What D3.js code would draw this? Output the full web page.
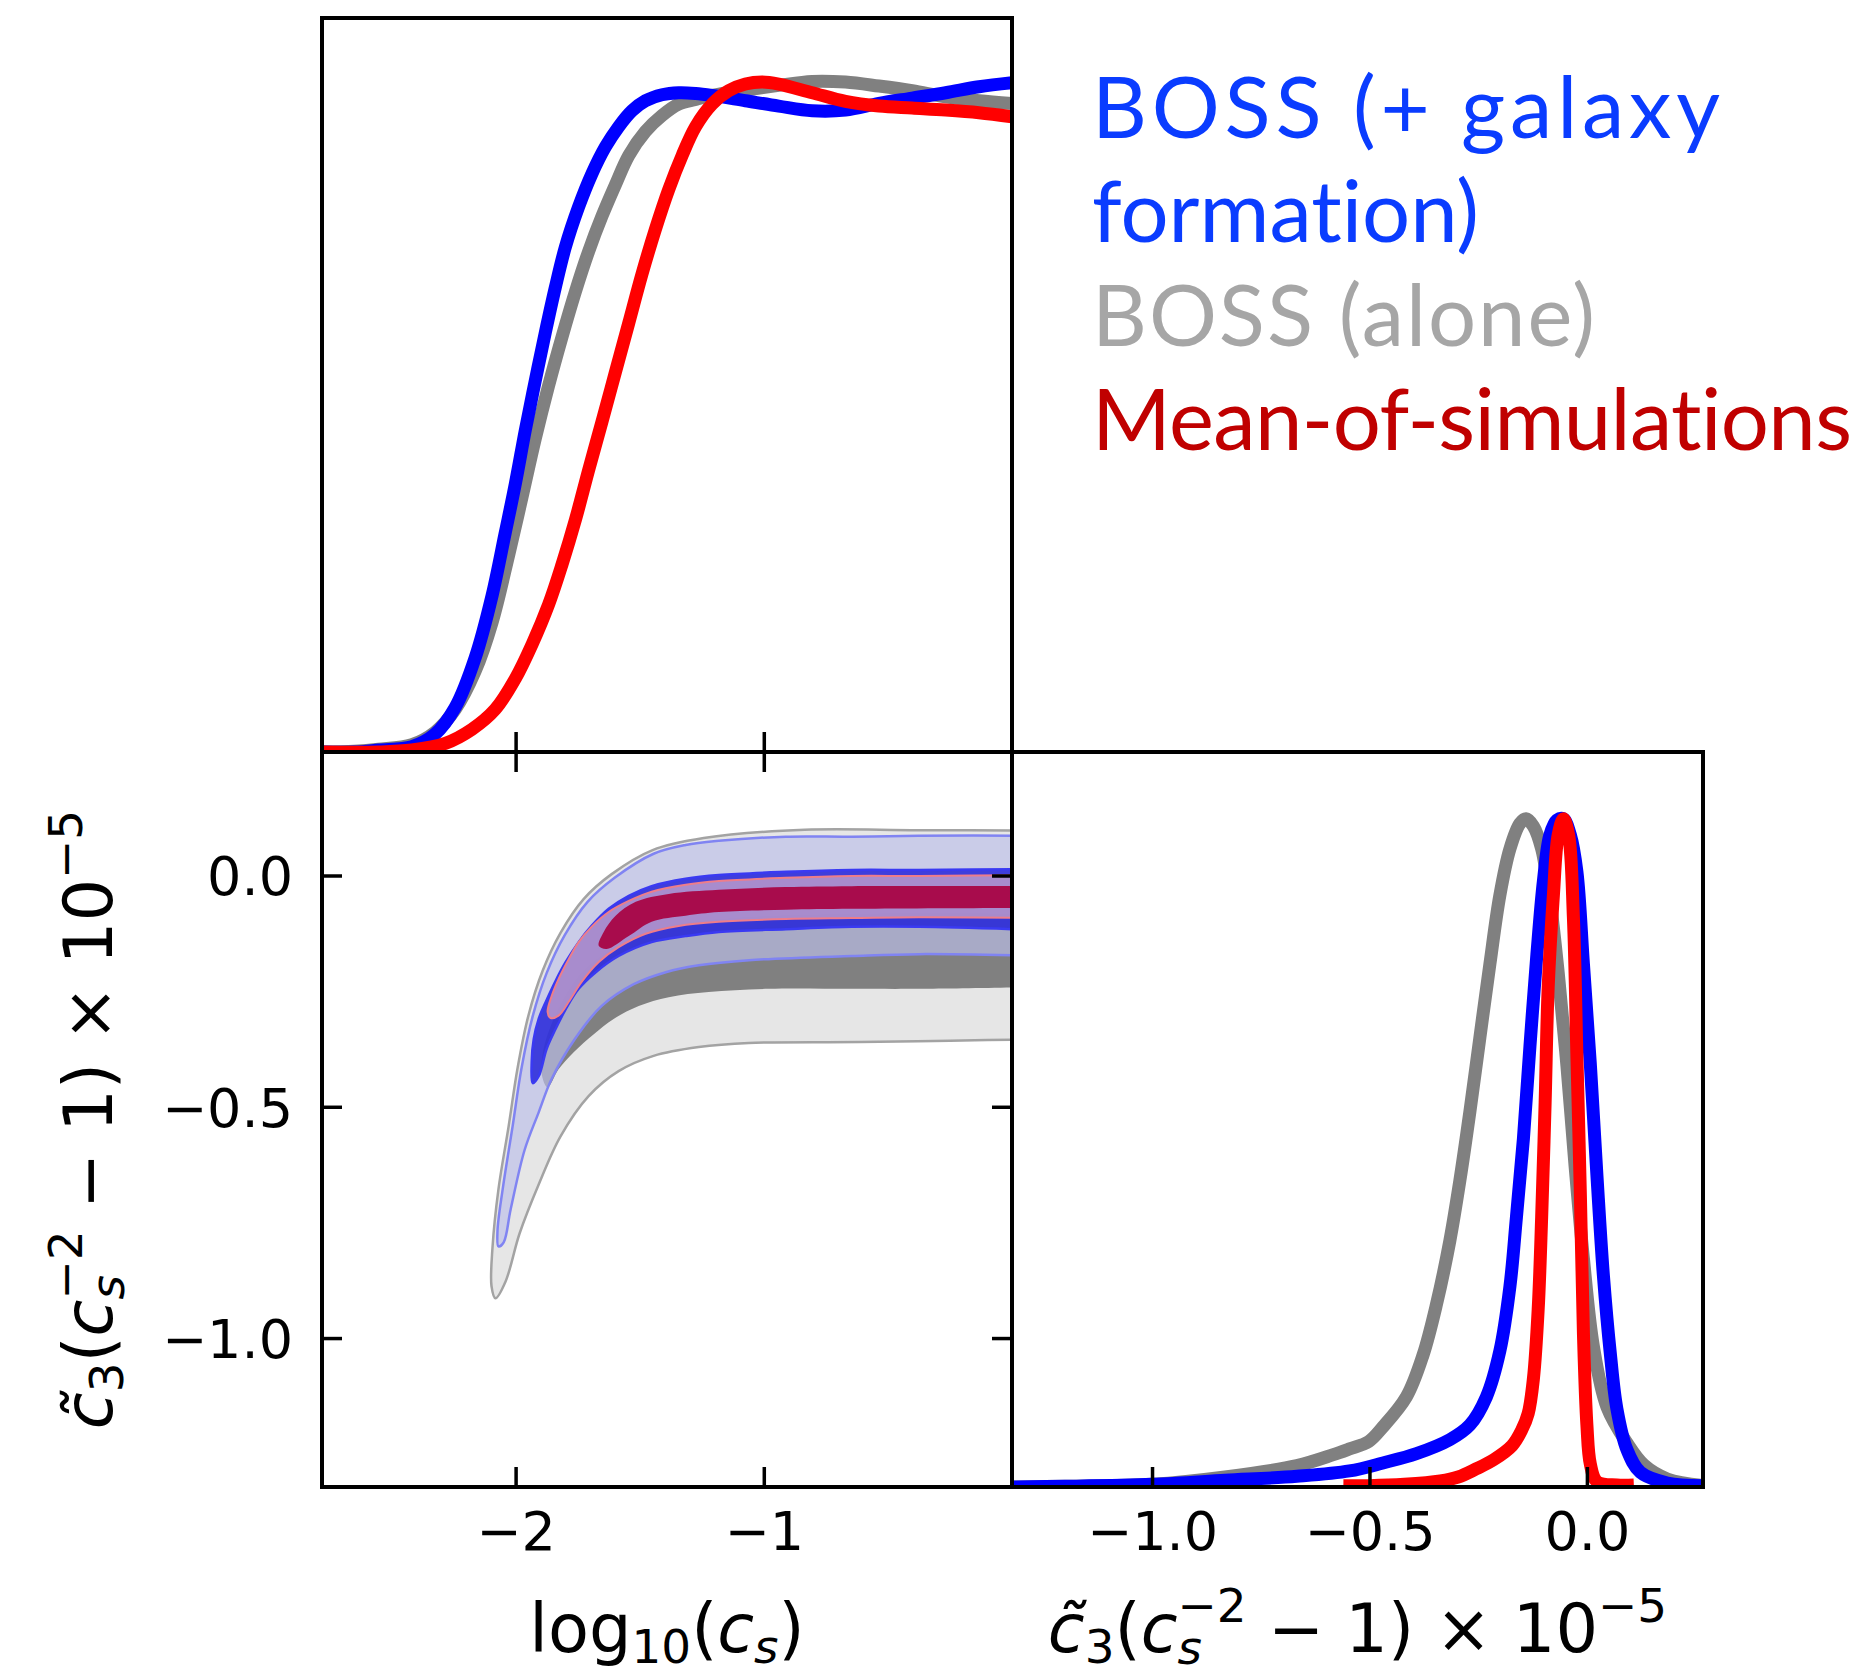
<!DOCTYPE html>
<html>
<head>
<meta charset="utf-8">
<script src="https://cdn.jsdelivr.net/npm/d3@7"></script>
<style>
  html, body { margin: 0; padding: 0; background: #fff; }
  svg { display: block; }
  text { white-space: pre; font-variant-ligatures: none; }
</style>
</head>
<body>
<svg id="chart" width="1865" height="1675"></svg>
<script>
// ---------- axis ranges and ticks ----------
const logcsRange = [-2.78, 0];
const c3Range = [-1.322, 0.267];
const densityRange = [0, 1.1];
const logcsTicks = [-2, -1];
const c3Ticks = [-1.0, -0.5, 0.0];

// ---------- legend ----------
const legendLines = ["BOSS (+ galaxy", "formation)", "BOSS (alone)", "Mean-of-simulations"];
const legendSeries = ["galaxy", "galaxy", "alone", "sims"];

// ---------- 1D marginal of log10(c_s): [x, normalised density] ----------
const logcsGalaxy = [[-2.778,0.0],[-2.65,0.0],[-2.552,0.003],[-2.418,0.008],[-2.324,0.027],[-2.243,0.067],[-2.163,0.141],[-2.095,0.234],[-2.042,0.328],[-2.001,0.402],[-1.961,0.482],[-1.921,0.556],[-1.880,0.629],[-1.840,0.696],[-1.800,0.756],[-1.746,0.817],[-1.692,0.867],[-1.638,0.907],[-1.585,0.937],[-1.531,0.961],[-1.477,0.976],[-1.410,0.985],[-1.343,0.988],[-1.275,0.987],[-1.208,0.984],[-1.074,0.976],[-0.940,0.968],[-0.805,0.961],[-0.671,0.962],[-0.536,0.972],[-0.402,0.980],[-0.267,0.988],[-0.133,0.997],[0.0,1.003]];
const logcsAlone = [[-2.778,0.0],[-2.65,0.001],[-2.552,0.004],[-2.418,0.011],[-2.324,0.030],[-2.243,0.064],[-2.163,0.121],[-2.095,0.194],[-2.028,0.295],[-1.974,0.382],[-1.921,0.469],[-1.867,0.549],[-1.813,0.622],[-1.759,0.690],[-1.706,0.750],[-1.652,0.803],[-1.598,0.850],[-1.544,0.894],[-1.477,0.930],[-1.410,0.954],[-1.343,0.971],[-1.275,0.978],[-1.208,0.984],[-1.074,0.992],[-0.940,0.999],[-0.805,1.005],[-0.671,1.004],[-0.536,0.998],[-0.402,0.991],[-0.267,0.982],[-0.133,0.976],[0.0,0.972]];
const logcsSims = [[-2.778,0.0],[-2.552,0.0],[-2.418,0.003],[-2.283,0.013],[-2.176,0.034],[-2.082,0.064],[-2.001,0.110],[-1.934,0.161],[-1.867,0.221],[-1.813,0.281],[-1.759,0.348],[-1.706,0.422],[-1.652,0.495],[-1.598,0.569],[-1.544,0.643],[-1.491,0.716],[-1.437,0.783],[-1.383,0.843],[-1.329,0.894],[-1.275,0.937],[-1.208,0.971],[-1.141,0.991],[-1.074,1.001],[-1.007,1.004],[-0.940,1.001],[-0.805,0.988],[-0.671,0.975],[-0.536,0.968],[-0.402,0.965],[-0.267,0.962],[-0.133,0.958],[0.0,0.952]];

// ---------- 1D marginal of c3 (c_s^-2 - 1) x 1e-5 ----------
const c3Alone = [[-1.322,0.0],[-1.2,0.001],[-1.0,0.004],[-0.832,0.015],[-0.667,0.032],[-0.585,0.048],[-0.546,0.057],[-0.502,0.068],[-0.469,0.090],[-0.415,0.135],[-0.377,0.197],[-0.346,0.273],[-0.315,0.369],[-0.292,0.459],[-0.269,0.562],[-0.246,0.673],[-0.223,0.783],[-0.200,0.886],[-0.177,0.955],[-0.154,0.993],[-0.140,1.0],[-0.123,0.989],[-0.104,0.955],[-0.085,0.879],[-0.066,0.770],[-0.046,0.631],[-0.027,0.479],[-0.008,0.342],[0.015,0.210],[0.046,0.120],[0.092,0.066],[0.131,0.033],[0.185,0.012],[0.267,0.002]];
const c3Galaxy = [[-1.322,0.0],[-1.2,0.001],[-1.0,0.004],[-0.832,0.010],[-0.667,0.016],[-0.546,0.024],[-0.469,0.036],[-0.392,0.050],[-0.315,0.071],[-0.269,0.093],[-0.231,0.135],[-0.200,0.204],[-0.177,0.300],[-0.162,0.404],[-0.146,0.521],[-0.131,0.659],[-0.115,0.797],[-0.100,0.907],[-0.085,0.976],[-0.069,0.998],[-0.054,1.0],[-0.038,0.976],[-0.023,0.921],[-0.008,0.783],[0.008,0.632],[0.023,0.467],[0.038,0.316],[0.054,0.199],[0.069,0.117],[0.092,0.056],[0.123,0.022],[0.185,0.006],[0.267,0.002]];
const c3Sims = [[-0.560,0.002],[-0.50,0.002],[-0.42,0.004],[-0.337,0.009],[-0.296,0.015],[-0.255,0.027],[-0.214,0.041],[-0.172,0.062],[-0.150,0.085],[-0.135,0.110],[-0.123,0.162],[-0.112,0.266],[-0.104,0.404],[-0.096,0.576],[-0.089,0.748],[-0.077,0.886],[-0.066,0.976],[-0.054,1.0],[-0.042,0.976],[-0.031,0.852],[-0.023,0.646],[-0.015,0.438],[-0.008,0.231],[0.000,0.093],[0.008,0.034],[0.023,0.008],[0.069,0.003],[0.108,0.003]];

// ---------- 2D credible regions [log10(c_s), c3 x 1e-5] ----------
const contAlone95 = [[0.12,0.097],[-0.375,0.098],[-0.835,0.099],[-1.242,0.081],[-1.448,0.055],[-1.613,0.003],[-1.726,-0.051],[-1.819,-0.124],[-1.891,-0.206],[-1.948,-0.302],[-1.992,-0.416],[-2.028,-0.542],[-2.069,-0.678],[-2.093,-0.804],[-2.097,-0.888],[-2.081,-0.914],[-2.040,-0.877],[-1.984,-0.774],[-1.907,-0.668],[-1.819,-0.564],[-1.706,-0.477],[-1.585,-0.423],[-1.444,-0.390],[-1.262,-0.371],[-1.060,-0.362],[-0.613,-0.360],[-0.25,-0.357],[0.12,-0.354]];
const contAlone68 = [[0.12,-0.083],[-0.645,-0.083],[-1.060,-0.090],[-1.343,-0.105],[-1.524,-0.133],[-1.645,-0.170],[-1.738,-0.213],[-1.806,-0.267],[-1.855,-0.321],[-1.887,-0.375],[-1.895,-0.429],[-1.871,-0.458],[-1.827,-0.419],[-1.766,-0.382],[-1.685,-0.343],[-1.605,-0.310],[-1.504,-0.282],[-1.383,-0.263],[-1.222,-0.252],[-0.980,-0.245],[-0.645,-0.245],[-0.375,-0.245],[0.12,-0.241]];
const contGalaxy95 = [[0.12,0.086],[-0.375,0.086],[-0.645,0.084],[-0.911,0.084],[-1.181,0.075],[-1.315,0.066],[-1.444,0.047],[-1.601,-0.005],[-1.710,-0.057],[-1.802,-0.129],[-1.875,-0.211],[-1.931,-0.304],[-1.976,-0.416],[-2.012,-0.542],[-2.052,-0.678],[-2.073,-0.769],[-2.069,-0.802],[-2.048,-0.793],[-2.020,-0.722],[-1.964,-0.594],[-1.907,-0.512],[-1.855,-0.440],[-1.762,-0.354],[-1.653,-0.282],[-1.524,-0.235],[-1.395,-0.209],[-1.262,-0.194],[-1.060,-0.183],[-0.645,-0.174],[-0.375,-0.170],[0.12,-0.174]];
const contGalaxy68 = [[0.12,0.014],[-0.375,0.012],[-0.645,0.012],[-0.911,0.008],[-1.181,0.001],[-1.315,-0.007],[-1.452,-0.023],[-1.544,-0.044],[-1.625,-0.072],[-1.694,-0.109],[-1.746,-0.144],[-1.798,-0.187],[-1.839,-0.228],[-1.879,-0.274],[-1.907,-0.310],[-1.927,-0.354],[-1.935,-0.401],[-1.931,-0.449],[-1.907,-0.434],[-1.875,-0.375],[-1.839,-0.332],[-1.798,-0.289],[-1.746,-0.245],[-1.677,-0.209],[-1.585,-0.174],[-1.452,-0.144],[-1.315,-0.131],[-1.181,-0.122],[-0.911,-0.116],[-0.645,-0.111],[-0.375,-0.111],[0.12,-0.118]];
const contSims95 = [[0.12,0.001],[-0.375,-0.001],[-0.645,-0.001],[-0.911,-0.005],[-1.181,-0.012],[-1.315,-0.020],[-1.452,-0.035],[-1.544,-0.055],[-1.625,-0.079],[-1.694,-0.111],[-1.746,-0.144],[-1.786,-0.181],[-1.827,-0.224],[-1.855,-0.261],[-1.871,-0.295],[-1.859,-0.308],[-1.827,-0.303],[-1.786,-0.273],[-1.734,-0.230],[-1.665,-0.187],[-1.585,-0.155],[-1.476,-0.126],[-1.343,-0.109],[-1.181,-0.100],[-0.911,-0.094],[-0.645,-0.092],[-0.375,-0.090],[0.12,-0.092]];
const contSims68 = [[0.12,-0.023],[-0.645,-0.023],[-0.911,-0.025],[-1.181,-0.031],[-1.383,-0.040],[-1.516,-0.057],[-1.597,-0.087],[-1.645,-0.122],[-1.665,-0.152],[-1.633,-0.159],[-1.544,-0.131],[-1.452,-0.100],[-1.315,-0.087],[-1.181,-0.079],[-0.911,-0.074],[-0.645,-0.072],[0.12,-0.070]];

// ---------- styling ----------
const lineColor = { galaxy: "#0000ff", alone: "#808080", sims: "#ff0000" };
const textColor = { galaxy: "#0a3cff", alone: "#a6a6a6", sims: "#c00000" };

// ---------- layout ----------
const svg = d3.select("#chart");
const L = 322, M = 1012, R = 1703, T = 18, MID = 752, B = 1487;
const FRAME_W = 4, TICK_LEN = 20, TICK_FS = 54, LABEL_FS = 67, CURVE_W = 13;

const xLog = d3.scaleLinear().domain(logcsRange).range([L, M]);
const yC3 = d3.scaleLinear().domain(c3Range).range([B, MID]);
const xC3 = d3.scaleLinear().domain(c3Range).range([M, R]);
const yTop = d3.scaleLinear().domain(densityRange).range([MID, T]);
const yPost = d3.scaleLinear().domain(densityRange).range([B, MID]);

const defs = svg.append("defs");
function addClip(id, x, y, w, h) {
  defs.append("clipPath").attr("id", id)
    .append("rect").attr("x", x).attr("y", y).attr("width", w).attr("height", h);
}
addClip("clipTop", L, T, M - L, MID - T);
addClip("clip2d", L, MID, M - L, B - MID);
addClip("clipPost", M, MID, R - M, B - MID);

// ---------- 2D filled contours ----------
// Each outline runs along the upper edge, round the tail, back along the lower
// edge; it is closed by a straight segment lying outside the panel.
const edge = d3.line()
  .x(d => xLog(d[0])).y(d => yC3(d[1]))
  .curve(d3.curveCatmullRom.alpha(0.5));
const region = pts => edge(pts) + "Z";

const contourLayers = [
  { data: contAlone95,  fill: "#e6e6e6", op: 1,    stroke: "#a3a3a3", sw: 2.5 },
  { data: contAlone68,  fill: "#808080", op: 1,    stroke: "none",    sw: 0 },
  { data: contGalaxy95, fill: "#bcbfe9", op: 0.67, stroke: "#8084f2", sw: 2.5 },
  { data: contGalaxy68, fill: "#1a1ad8", op: 0.8,  stroke: "#3a3af2", sw: 2.5 },
  { data: contSims95,   fill: "#bb9aca", op: 0.85, stroke: "#ee7d8a", sw: 2 },
  { data: contSims68,   fill: "#a80c4c", op: 1,    stroke: "none",    sw: 0 }
];
const g2d = svg.append("g").attr("clip-path", "url(#clip2d)");
contourLayers.forEach(c => {
  g2d.append("path")
    .attr("d", region(c.data))
    .attr("fill", c.fill).attr("fill-opacity", c.op)
    .attr("stroke", c.stroke).attr("stroke-width", c.sw);
});

// ---------- 1D marginals ----------
const topLine = d3.line().x(d => xLog(d[0])).y(d => yTop(d[1])).curve(d3.curveCatmullRom.alpha(0.5));
const postLine = d3.line().x(d => xC3(d[0])).y(d => yPost(d[1])).curve(d3.curveCatmullRom.alpha(0.5));

const gTop = svg.append("g").attr("clip-path", "url(#clipTop)");
[[logcsAlone, "alone"], [logcsGalaxy, "galaxy"], [logcsSims, "sims"]].forEach(([d, k]) => {
  gTop.append("path").attr("d", topLine(d)).attr("fill", "none")
    .attr("stroke", lineColor[k]).attr("stroke-width", CURVE_W).attr("stroke-linejoin", "round");
});
const gPost = svg.append("g").attr("clip-path", "url(#clipPost)");
[[c3Alone, "alone"], [c3Galaxy, "galaxy"], [c3Sims, "sims"]].forEach(([d, k]) => {
  gPost.append("path").attr("d", postLine(d)).attr("fill", "none")
    .attr("stroke", lineColor[k]).attr("stroke-width", CURVE_W).attr("stroke-linejoin", "round");
});

// ---------- frames ----------
[[L, T, M - L, MID - T], [L, MID, M - L, B - MID], [M, MID, R - M, B - MID]].forEach(([x, y, w, h]) => {
  svg.append("rect").attr("x", x).attr("y", y).attr("width", w).attr("height", h)
    .attr("fill", "none").attr("stroke", "#000").attr("stroke-width", FRAME_W);
});

// ---------- axes (inward ticks) ----------
function styleAxis(g, labelled) {
  g.select(".domain").remove();
  g.selectAll(".tick line").attr("stroke", "#000").attr("stroke-width", 3.5);
  if (!labelled) { g.selectAll(".tick text").remove(); return; }
  g.selectAll(".tick text")
    .attr("fill", "#000")
    .attr("font-family", "DejaVu Sans")
    .attr("font-size", TICK_FS);
}
const fmt1 = d3.format(".1f");
const fmt0 = d3.format("d");

// top marginal: ticks along its lower edge
svg.append("g").attr("transform", `translate(0,${MID})`)
  .call(d3.axisBottom(xLog).tickValues(logcsTicks).tickSize(-TICK_LEN).tickFormat(fmt0))
  .call(g => styleAxis(g, false));
// 2D panel: top, bottom, left, right
svg.append("g").attr("transform", `translate(0,${MID})`)
  .call(d3.axisTop(xLog).tickValues(logcsTicks).tickSize(-TICK_LEN).tickFormat(fmt0))
  .call(g => styleAxis(g, false));
svg.append("g").attr("transform", `translate(0,${B})`)
  .call(d3.axisBottom(xLog).tickValues(logcsTicks).tickSize(-TICK_LEN).tickPadding(25).tickFormat(fmt0))
  .call(g => styleAxis(g, true));
svg.append("g").attr("transform", `translate(${L},0)`)
  .call(d3.axisLeft(yC3).tickValues(c3Ticks).tickSize(-TICK_LEN).tickPadding(29).tickFormat(fmt1))
  .call(g => styleAxis(g, true))
  .call(g => g.selectAll(".tick text").attr("dy", "0.36em"));
svg.append("g").attr("transform", `translate(${M},0)`)
  .call(d3.axisRight(yC3).tickValues(c3Ticks).tickSize(-TICK_LEN).tickFormat(fmt1))
  .call(g => styleAxis(g, false));
// c3 marginal: bottom
svg.append("g").attr("transform", `translate(0,${B})`)
  .call(d3.axisBottom(xC3).tickValues(c3Ticks).tickSize(-TICK_LEN).tickPadding(25).tickFormat(fmt1))
  .call(g => styleAxis(g, true));

// ---------- math-style axis labels (one text element, laid out piece by piece) ----------
function mathText(parent, pieces, size) {
  const text = parent.append("text").attr("font-family", "DejaVu Sans").attr("fill", "#000");
  let x = 0, start = 0;
  const spans = [];
  pieces.forEach(p => {
    const ts = text.append("tspan")
      .attr("font-size", size * (p.s || 1))
      .attr("font-style", p.i ? "oblique" : "normal")
      .attr("y", (p.dy || 0) * size)
      .attr("x", 0)
      .text(p.t);
    const w = ts.node().getComputedTextLength();
    let px;
    if (p.stack) {
      px = start;
      x = Math.max(x, start + w);
    } else {
      px = x;
      start = x;
      x += w;
    }
    spans.push([ts, px]);
  });
  spans.forEach(([ts, px]) => ts.attr("x", px - x / 2));
  return text;
}
const logcsLabel = [
  { t: "log" }, { t: "10", s: 0.7, dy: 0.16 }, { t: "(" }, { t: "c", i: true },
  { t: "s", i: true, s: 0.7, dy: 0.16 }, { t: ")" }
];
const c3Label = [
  { t: "c\u0303", i: true },
  { t: "3", s: 0.7, dy: 0.16 }, { t: "(" }, { t: "c", i: true },
  { t: "\u22122", s: 0.7, dy: -0.45 }, { t: "s", i: true, s: 0.7, dy: 0.18, stack: true },
  { t: " \u2212 1)" }, { t: " \u00D7 10" }, { t: "\u22125", s: 0.7, dy: -0.45 }
];
mathText(svg.append("g").attr("transform", `translate(${(L + M) / 2},1652)`), logcsLabel, LABEL_FS);
mathText(svg.append("g").attr("transform", `translate(${(M + R) / 2},1652)`), c3Label, LABEL_FS);
mathText(svg.append("g").attr("transform", `translate(112,${(MID + B) / 2}) rotate(-90)`), c3Label, LABEL_FS);

// ---------- legend text ----------
const legendWidth = [628, 387, 503, 760];
const legend = svg.append("g").attr("transform", "translate(1092,0)");
legend.selectAll("text").data(legendLines).join("text")
  .attr("x", 0)
  .attr("y", (d, i) => 138 + i * 104)
  .attr("font-family", "Lato")
  .attr("font-size", 85)
  .attr("fill", (d, i) => textColor[legendSeries[i]])
  .attr("textLength", (d, i) => legendWidth[i])
  .attr("lengthAdjust", "spacing")
  .text(d => d);
</script>
</body>
</html>
